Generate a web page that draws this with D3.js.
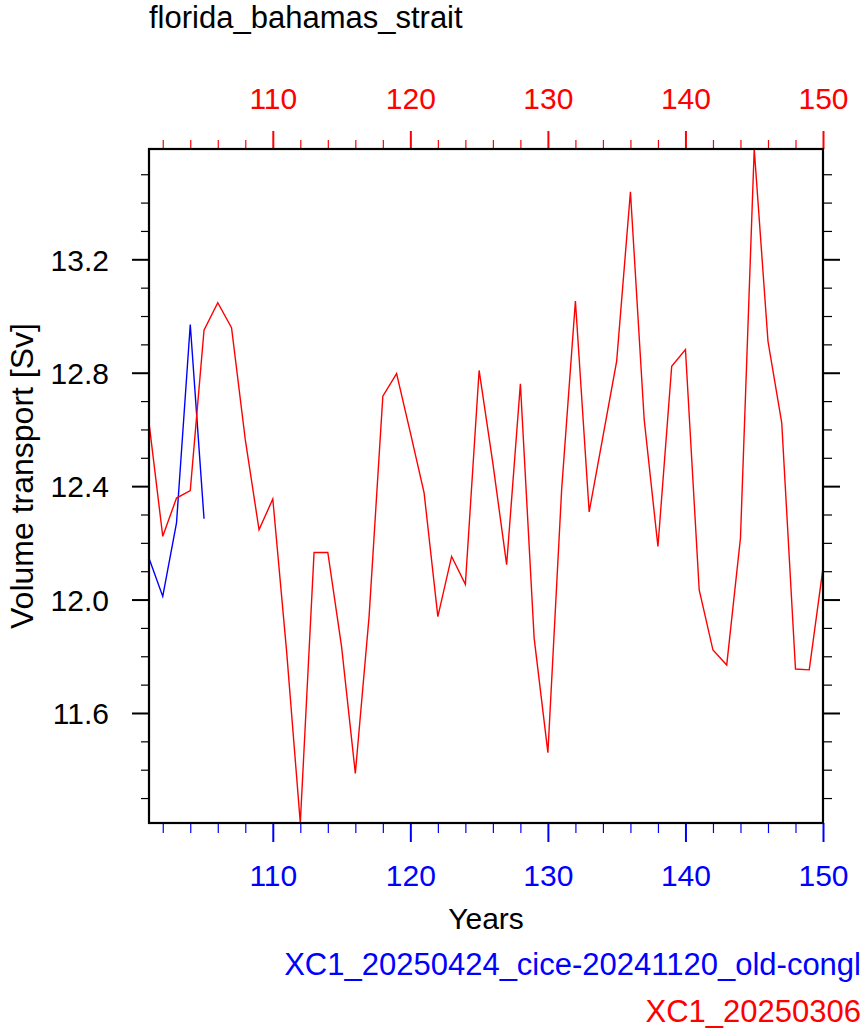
<!DOCTYPE html>
<html>
<head>
<meta charset="utf-8">
<script src="https://cdn.jsdelivr.net/npm/d3@7"></script>
<style>
  html, body { margin: 0; padding: 0; background: #fff; }
  svg { display: block; font-family: "Liberation Sans", Arial, Helvetica, sans-serif; }
</style>
</head>
<body>
<svg id="chart" width="863" height="1035"></svg>
<script>
// ---- data ----
const title = "florida_bahamas_strait";
const yAxisTitle = "Volume transport [Sv]";
const xAxisTitle = "Years";
const blueName = "XC1_20250424_cice-20241120_old-congl";
const redName = "XC1_20250306";

const blueYears = [101, 102, 103, 104, 105];
const blueValues = [12.146, 12.011, 12.270, 12.970, 12.285];

const redYears = [101, 102, 103, 104, 105, 106, 107, 108, 109, 110,
                  111, 112, 113, 114, 115, 116, 117, 118, 119, 120,
                  121, 122, 123, 124, 125, 126, 127, 128, 129, 130,
                  131, 132, 133, 134, 135, 136, 137, 138, 139, 140,
                  141, 142, 143, 144, 145, 146, 147, 148, 149, 150];
const redValues = [12.624, 12.223, 12.358, 12.384, 12.950, 13.047, 12.959, 12.564, 12.246, 12.355,
                   11.820, 11.212, 12.166, 12.166, 11.834, 11.387, 11.940, 12.717, 12.797, 12.589,
                   12.376, 11.940, 12.152, 12.054, 12.808, 12.480, 12.123, 12.761, 11.864, 11.460,
                   12.388, 13.053, 12.309, 12.575, 12.841, 13.438, 12.635, 12.187, 12.823, 12.882,
                   12.034, 11.822, 11.769, 12.217, 13.589, 12.911, 12.623, 11.755, 11.752, 12.111];

const xMajorTicks = [110, 120, 130, 140, 150];
const xMinorTicks = [102, 104, 106, 108, 112, 114, 116, 118, 122, 124, 126, 128,
                     132, 134, 136, 138, 142, 144, 146, 148];
const yMajorTicks = [11.6, 12.0, 12.4, 12.8, 13.2];
const yMinorTicks = [11.3, 11.4, 11.5, 11.7, 11.8, 11.9, 12.1, 12.2, 12.3,
                     12.5, 12.6, 12.7, 12.9, 13.0, 13.1, 13.3, 13.4, 13.5];

// ---- layout ----
const L = 149, R = 823, T = 149, B = 823;
const RED = "#ff0000", BLUE = "#0000ff";
const svg = d3.select("#chart");

const x = d3.scaleLinear().domain([101, 150]).range([L, R]);
const y = d3.scaleLinear().domain(d3.extent(redValues.concat(blueValues))).range([B, T]);

function styleAxis(g, color, width) {
  g.select(".domain").remove();
  g.selectAll(".tick line").attr("stroke", color).attr("stroke-width", width);
  g.selectAll("text").attr("fill", color).attr("font-size", 30)
    .attr("font-family", "'Liberation Sans', Arial, Helvetica, sans-serif");
}

// bottom axis (blue)
svg.append("g").attr("transform", `translate(0,${B})`)
  .call(d3.axisBottom(x).tickValues(xMinorTicks).tickSize(10).tickFormat(""))
  .call(g => styleAxis(g, BLUE, 1.2));
svg.append("g").attr("transform", `translate(0,${B})`)
  .call(d3.axisBottom(x).tickValues(xMajorTicks).tickSize(19).tickPadding(22).tickFormat(d3.format("d")))
  .call(g => styleAxis(g, BLUE, 2))
  .call(g => g.selectAll("text").attr("dy", "0.72em"));

// top axis (red)
svg.append("g").attr("transform", `translate(0,${T})`)
  .call(d3.axisTop(x).tickValues(xMinorTicks).tickSize(9).tickFormat(""))
  .call(g => styleAxis(g, RED, 1.2));
svg.append("g").attr("transform", `translate(0,${T})`)
  .call(d3.axisTop(x).tickValues(xMajorTicks).tickSize(18).tickPadding(22).tickFormat(d3.format("d")))
  .call(g => styleAxis(g, RED, 2));

// left axis
svg.append("g").attr("transform", `translate(${L},0)`)
  .call(d3.axisLeft(y).tickValues(yMinorTicks).tickSize(8).tickFormat(""))
  .call(g => styleAxis(g, "#000", 1.2));
svg.append("g").attr("transform", `translate(${L},0)`)
  .call(d3.axisLeft(y).tickValues(yMajorTicks).tickSize(17).tickPadding(23).tickFormat(d3.format(".1f")))
  .call(g => styleAxis(g, "#000", 2))
  .call(g => g.selectAll("text").attr("dy", "0.36em"));

// right axis
svg.append("g").attr("transform", `translate(${R},0)`)
  .call(d3.axisRight(y).tickValues(yMinorTicks).tickSize(9).tickFormat(""))
  .call(g => styleAxis(g, "#000", 1.2));
svg.append("g").attr("transform", `translate(${R},0)`)
  .call(d3.axisRight(y).tickValues(yMajorTicks).tickSize(17).tickFormat(""))
  .call(g => styleAxis(g, "#000", 2));

// lines
const line = d3.line().x(d => x(d[0])).y(d => y(d[1]));
svg.append("path")
  .datum(blueYears.map((yr, i) => [yr, blueValues[i]]))
  .attr("d", line).attr("fill", "none").attr("stroke", BLUE).attr("stroke-width", 1.4)
  .attr("stroke-linejoin", "miter");
svg.append("path")
  .datum(redYears.map((yr, i) => [yr, redValues[i]]))
  .attr("d", line).attr("fill", "none").attr("stroke", RED).attr("stroke-width", 1.4)
  .attr("stroke-linejoin", "miter");

// frame
svg.append("rect").attr("x", L).attr("y", T).attr("width", R - L).attr("height", B - T)
  .attr("fill", "none").attr("stroke", "#000").attr("stroke-width", 2.2);

// titles
svg.append("text").attr("x", L).attr("y", 28).attr("font-size", 31).attr("fill", "#000")
  .text(title);
svg.append("text").attr("x", (L + R) / 2).attr("y", 929).attr("font-size", 30)
  .attr("text-anchor", "middle").attr("fill", "#000").text(xAxisTitle);
svg.append("text").attr("transform", `translate(33,476) rotate(-90)`)
  .attr("font-size", 32).attr("text-anchor", "middle").attr("fill", "#000").text(yAxisTitle);

// legend labels (right aligned)
svg.append("text").attr("x", 861).attr("y", 975).attr("font-size", 31)
  .attr("text-anchor", "end").attr("fill", BLUE).text(blueName);
svg.append("text").attr("x", 861).attr("y", 1022).attr("font-size", 31)
  .attr("text-anchor", "end").attr("fill", RED).text(redName);
</script>
</body>
</html>
